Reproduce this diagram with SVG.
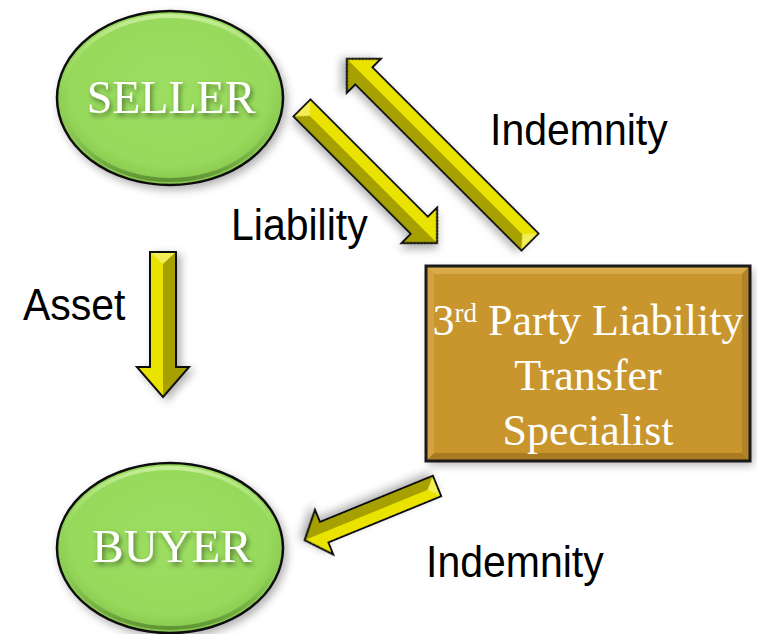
<svg xmlns="http://www.w3.org/2000/svg" width="757" height="634" viewBox="0 0 757 634">
  <defs>
    <style>
      .ell { stroke: #111; stroke-width: 2.5; }
      .ell-fill { fill: url(#greenFill); }
      .ell-rim { fill: none; stroke: url(#greenRim); stroke-width: 4; }
      .node-txt { font-family: "Liberation Serif", "Times New Roman", serif; fill: #fff; text-anchor: middle; }
      .box-txt { font-family: "Liberation Serif", "Times New Roman", serif; font-size: 44px; fill: #fff; text-anchor: middle; }
      .lbl { font-family: "Liberation Sans", Arial, sans-serif; font-size: 41px; fill: #000; }
      .ar-shade { fill: #A6A000; }
      .ar-lit { fill: #EAE304; }
      .ar-tail { fill: #F3EE55; }
      .ar-edge { fill: none; stroke: #111; stroke-width: 2; stroke-linejoin: miter; }
    </style>
    <radialGradient id="greenFill" cx="0.5" cy="0.45" r="0.55">
      <stop offset="0" stop-color="#9CDE61"/>
      <stop offset="0.8" stop-color="#96D95B"/>
      <stop offset="1" stop-color="#86C44E"/>
    </radialGradient>
    <linearGradient id="greenRim" x1="0" y1="0" x2="0" y2="1">
      <stop offset="0" stop-color="#C6EE98"/>
      <stop offset="0.5" stop-color="#9ADB5E" stop-opacity="0"/>
      <stop offset="1" stop-color="#5F9434"/>
    </linearGradient>
    <filter id="shadow" x="-20%" y="-20%" width="140%" height="140%">
      <feDropShadow dx="3" dy="4" stdDeviation="4" flood-color="#000" flood-opacity="0.3"/>
    </filter>
    <filter id="txtShadow" x="-10%" y="-20%" width="120%" height="140%">
      <feDropShadow dx="2" dy="3" stdDeviation="2.5" flood-color="#000" flood-opacity="0.45"/>
    </filter>
  </defs>

  <rect width="757" height="634" fill="#fff"/>

  <!-- Seller node -->
  <g id="seller">
    <g filter="url(#shadow)">
      <ellipse class="ell ell-fill" cx="170" cy="98" rx="113" ry="87"/>
    </g>
    <ellipse class="ell-rim" cx="170" cy="98" rx="108" ry="82"/>
    <text class="node-txt" x="171" y="113" font-size="46" filter="url(#txtShadow)">SELLER</text>
  </g>

  <!-- Buyer node -->
  <g id="buyer">
    <g filter="url(#shadow)">
      <ellipse class="ell ell-fill" cx="170" cy="548" rx="113" ry="85"/>
    </g>
    <ellipse class="ell-rim" cx="170" cy="548" rx="108" ry="80"/>
    <text class="node-txt" x="172" y="562" font-size="47" filter="url(#txtShadow)">BUYER</text>
  </g>

  <!-- Third-party specialist node -->
  <g id="specialist">
    <rect x="426" y="266" width="324" height="195" fill="#C9962F" filter="url(#shadow)"/>
    <polygon points="427,267 749,267 742,274 434,274" fill="#D9AA4A"/>
    <polygon points="427,267 434,274 434,453 427,460" fill="#D3A242"/>
    <polygon points="427,460 434,453 742,453 749,460" fill="#A97C22"/>
    <polygon points="749,267 742,274 742,453 749,460" fill="#B0822A"/>
    <rect x="426" y="266" width="324" height="195" fill="none" stroke="#1a1a1a" stroke-width="3"/>
    <text class="box-txt" x="588" y="335">3<tspan font-size="27" dy="-13">rd</tspan><tspan dy="13"> Party Liability</tspan></text>
    <text class="box-txt" x="588" y="390">Transfer</text>
    <text class="box-txt" x="588" y="445">Specialist</text>
  </g>

  <!-- Connectors: bevelled block arrows, drawn along +x then placed -->
  <g id="connectors">
    <!-- Seller to Buyer: Asset -->
    <g id="arrow-asset" filter="url(#shadow)" transform="translate(163,252) rotate(90) scale(1,-1)">
      <polygon class="ar-shade" points="0,-13 115,-13 115,-26 145,0 115,26 115,13 0,13"/>
      <polygon class="ar-lit" points="0,-13 115,-13 115,-26 145,0 0,0"/>
      <polygon class="ar-tail" points="0,-13 12,0 0,13"/>
      <polygon class="ar-edge" points="0,-13 115,-13 115,-26 145,0 115,26 115,13 0,13"/>
    </g>
    <text class="lbl" transform="translate(23,320) scale(1,1.08)">Asset</text>

    <!-- Seller to Specialist: Liability -->
    <g id="arrow-liability" filter="url(#shadow)" transform="translate(302,108) rotate(45)">
      <polygon class="ar-shade" points="0,-12 166,-12 166,-25 191,0 166,25 166,12 0,12"/>
      <polygon class="ar-lit" points="0,-12 166,-12 166,-25 191,0 0,0"/>
      <polygon class="ar-tail" points="0,-12 11,0 0,12"/>
      <polygon class="ar-edge" points="0,-12 166,-12 166,-25 191,0 166,25 166,12 0,12"/>
    </g>
    <text class="lbl" transform="translate(231,240) scale(1,1.08)">Liability</text>

    <!-- Specialist to Seller: Indemnity -->
    <g id="arrow-indemnity-seller" filter="url(#shadow)" transform="translate(530,242) rotate(225) scale(1,-1)">
      <polygon class="ar-shade" points="0,-12 235,-12 235,-24 259,0 235,24 235,12 0,12"/>
      <polygon class="ar-lit" points="0,-12 235,-12 235,-24 259,0 0,0"/>
      <polygon class="ar-tail" points="0,-12 11,0 0,12"/>
      <polygon class="ar-edge" points="0,-12 235,-12 235,-24 259,0 235,24 235,12 0,12"/>
    </g>
    <text class="lbl" transform="translate(490,145) scale(1,1.08)">Indemnity</text>

    <!-- Specialist to Buyer: Indemnity -->
    <g id="arrow-indemnity-buyer" filter="url(#shadow)" transform="translate(437,486) rotate(157.75)">
      <polygon class="ar-shade" points="0,-11 122,-11 122,-24 143,0 122,24 122,11 0,11"/>
      <polygon class="ar-lit" points="0,-11 122,-11 122,-24 143,0 0,0"/>
      <polygon class="ar-tail" points="0,-11 10,0 0,11"/>
      <polygon class="ar-edge" points="0,-11 122,-11 122,-24 143,0 122,24 122,11 0,11"/>
    </g>
    <text class="lbl" transform="translate(426,577) scale(1,1.08)">Indemnity</text>
  </g>
</svg>
